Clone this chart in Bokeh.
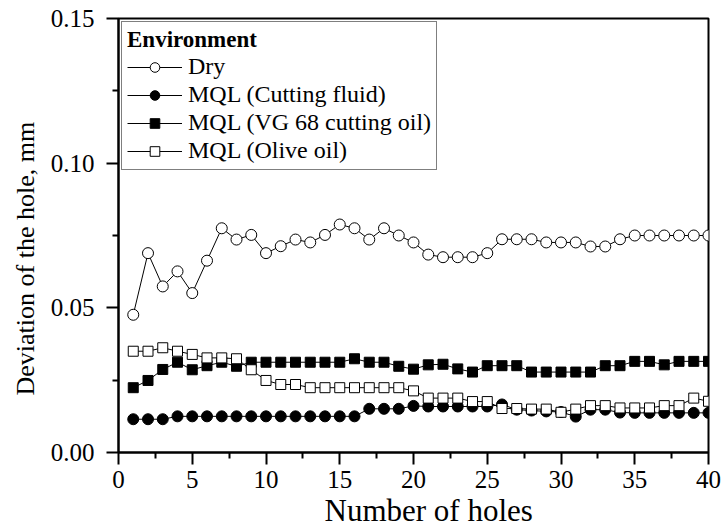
from bokeh.plotting import figure
from bokeh.models import (Legend, LegendItem, FixedTicker, NumeralTickFormatter,
                          Range1d, Title)
from bokeh.embed import file_html
from bokeh.resources import INLINE

holes = [1, 2, 3, 4, 5, 6, 7, 8, 9, 10, 11, 12, 13, 14, 15, 16, 17, 18, 19, 20,
         21, 22, 23, 24, 25, 26, 27, 28, 29, 30, 31, 32, 33, 34, 35, 36, 37, 38, 39, 40]

dry = [0.0476, 0.0689, 0.0574, 0.0626, 0.0551, 0.0663, 0.0775, 0.0736, 0.0752, 0.0689,
       0.0713, 0.0736, 0.0726, 0.0752, 0.0788, 0.0775, 0.0736, 0.0775, 0.0750, 0.0726,
       0.0684, 0.0675, 0.0675, 0.0675, 0.0689, 0.0737, 0.0737, 0.0737, 0.0726, 0.0726,
       0.0726, 0.0712, 0.0712, 0.0737, 0.0750, 0.0750, 0.0750, 0.0750, 0.0750, 0.0750]

cutting_fluid = [0.0115, 0.0115, 0.0115, 0.0125, 0.0125, 0.0125, 0.0125, 0.0125, 0.0125, 0.0125,
                 0.0125, 0.0125, 0.0125, 0.0125, 0.0125, 0.0125, 0.0151, 0.0151, 0.0151, 0.0161,
                 0.0159, 0.0159, 0.0159, 0.0159, 0.0159, 0.0166, 0.0148, 0.0145, 0.0142, 0.0140,
                 0.0124, 0.0148, 0.0148, 0.0138, 0.0137, 0.0137, 0.0137, 0.0137, 0.0137, 0.0137]

vg68 = [0.0224, 0.0249, 0.0287, 0.0312, 0.0286, 0.0300, 0.0312, 0.0298, 0.0312, 0.0312,
        0.0312, 0.0312, 0.0312, 0.0312, 0.0312, 0.0324, 0.0312, 0.0312, 0.0298, 0.0288,
        0.0303, 0.0305, 0.0289, 0.0278, 0.0300, 0.0300, 0.0300, 0.0278, 0.0278, 0.0278,
        0.0278, 0.0278, 0.0300, 0.0300, 0.0315, 0.0315, 0.0303, 0.0315, 0.0315, 0.0315]

olive = [0.0350, 0.0350, 0.0362, 0.0350, 0.0339, 0.0327, 0.0327, 0.0324, 0.0286, 0.0249,
         0.0235, 0.0235, 0.0224, 0.0224, 0.0224, 0.0224, 0.0224, 0.0224, 0.0224, 0.0213,
         0.0188, 0.0188, 0.0188, 0.0176, 0.0176, 0.0152, 0.0152, 0.0150, 0.0150, 0.0139,
         0.0150, 0.0162, 0.0162, 0.0154, 0.0154, 0.0154, 0.0162, 0.0162, 0.0188, 0.0177]

labels = ["Dry", "MQL (Cutting fluid)", "MQL (VG 68 cutting oil)", "MQL (Olive oil)"]
legend_title = "Environment"
x_title = "Number of holes"
y_title = "Deviation of the hole, mm"
x_ticks = [0, 5, 10, 15, 20, 25, 30, 35, 40]
x_minor = [2.5, 7.5, 12.5, 17.5, 22.5, 27.5, 32.5, 37.5]
y_ticks = [0.0, 0.05, 0.10, 0.15]
y_minor = [0.025, 0.075, 0.125]

FONT = "Liberation Serif"

p = figure(width=723, height=531, output_backend="svg", toolbar_location=None,
           x_range=Range1d(0, 40), y_range=Range1d(0, 0.15),
           min_border_left=118, min_border_right=15, min_border_top=18, min_border_bottom=79)
p.xgrid.visible = False
p.ygrid.visible = False
p.outline_line_color = "black"
p.outline_line_width = 2
p.background_fill_color = "white"
p.border_fill_color = "white"

for ax in (p.xaxis[0], p.yaxis[0]):
    ax.axis_line_width = 2
    ax.major_tick_line_width = 2
    ax.minor_tick_line_width = 2
    ax.major_tick_in = 0
    ax.minor_tick_in = 0
    ax.major_tick_out = 12
    ax.minor_tick_out = 6
    ax.major_label_text_font = FONT
    ax.major_label_text_font_size = "25px"
    ax.major_label_text_color = "black"

p.xaxis[0].ticker = FixedTicker(ticks=x_ticks, minor_ticks=x_minor)
p.yaxis[0].ticker = FixedTicker(ticks=y_ticks, minor_ticks=y_minor)
p.yaxis[0].formatter = NumeralTickFormatter(format="0.00")
p.xaxis[0].major_label_standoff = 6
p.yaxis[0].major_label_standoff = 12

# axis titles, positioned as in the reference (not centred on the frame)
p.add_layout(Title(text=x_title, align="left", offset=206, standoff=0,
                   text_font=FONT, text_font_size="31px", text_font_style="normal",
                   text_color="black"), "below")
p.add_layout(Title(text=y_title, align="left", offset=57, standoff=15,
                   text_font=FONT, text_font_size="26px", text_font_style="normal",
                   text_color="black"), "left")

r_dry_l = p.line(holes, dry, line_color="black", line_width=1)
r_dry_m = p.scatter(holes, dry, marker="circle", size=11, fill_color="white",
                    line_color="black", line_width=1)
r_cf_l = p.line(holes, cutting_fluid, line_color="black", line_width=1)
r_cf_m = p.scatter(holes, cutting_fluid, marker="circle", size=11, fill_color="black",
                   line_color="black")
r_vg_l = p.line(holes, vg68, line_color="black", line_width=1)
r_vg_m = p.scatter(holes, vg68, marker="square", size=10, fill_color="black",
                   line_color="black")
r_ol_l = p.line(holes, olive, line_color="black", line_width=1)
r_ol_m = p.scatter(holes, olive, marker="square", size=10, fill_color="white",
                   line_color="black", line_width=1)

legend = Legend(items=[
    LegendItem(label=labels[0], renderers=[r_dry_l, r_dry_m]),
    LegendItem(label=labels[1], renderers=[r_cf_l, r_cf_m]),
    LegendItem(label=labels[2], renderers=[r_vg_l, r_vg_m]),
    LegendItem(label=labels[3], renderers=[r_ol_l, r_ol_m]),
], location="top_left")
legend.title = legend_title
legend.title_text_font = FONT
legend.title_text_font_style = "bold"
legend.title_text_font_size = "23px"
legend.title_text_color = "black"
legend.title_standoff = 0
legend.label_text_font = FONT
legend.label_text_font_size = "24px"
legend.label_text_color = "black"
legend.label_height = 24
legend.glyph_height = 24
legend.glyph_width = 55
legend.label_standoff = 6
legend.spacing = 1
legend.padding = 5
legend.margin = 3
legend.border_line_color = "black"
legend.border_line_width = 1
legend.background_fill_alpha = 1
p.add_layout(legend)

open("out.html", "w").write(file_html(p, INLINE))
